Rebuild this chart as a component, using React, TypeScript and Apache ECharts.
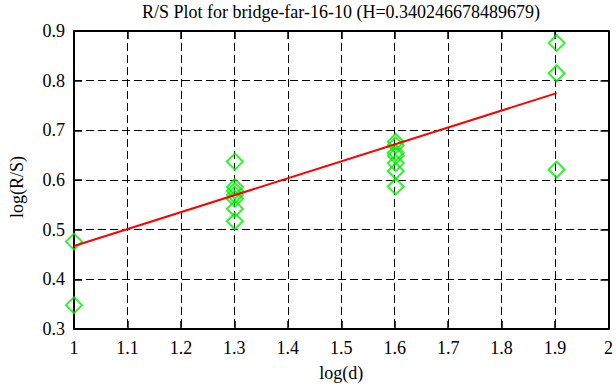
import React, { useEffect, useRef } from "react";
import * as echarts from "echarts";

const TITLE = "R/S Plot for bridge-far-16-10 (H=0.340246678489679)";
const X_NAME = "log(d)";
const Y_NAME = "log(R/S)";

// scatter points: log(d) and log(R/S)
const pointX = [
  1, 1,
  1.301, 1.301, 1.301, 1.301, 1.301, 1.301, 1.301,
  1.602, 1.602, 1.602, 1.602, 1.602, 1.602, 1.602,
  1.903, 1.903, 1.903,
];
const pointY = [
  0.476, 0.348,
  0.637, 0.586, 0.578, 0.570, 0.562, 0.542, 0.517,
  0.677, 0.670, 0.655, 0.649, 0.634, 0.618, 0.587,
  0.876, 0.815, 0.621,
];

// regression line endpoints
const fitX = [1, 1.903];
const fitY = [0.467, 0.775];

const FONT = "Liberation Serif";

export default function App() {
  const ref = useRef<HTMLDivElement>(null);
  useEffect(() => {
    if (!ref.current) return;
    const chart = echarts.init(ref.current, undefined, { renderer: "svg" });
    const axisLine = { show: true, lineStyle: { color: "#000", width: 2 } };
    const axisTick = { show: true, inside: true, length: 8, lineStyle: { color: "#000", width: 1.5 } };
    const split = { show: true, lineStyle: { color: "#000", width: 1, type: [8, 4] as any } };
    const labelStyle = { color: "#000", fontFamily: FONT, fontSize: 18 };
    const fmt = (v: number) => String(Math.round(v * 10) / 10);
    chart.setOption({
      animation: false,
      backgroundColor: "#fff",
      grid: { left: 71, right: 7, top: 31, bottom: 57 },
      graphic: [
        {
          type: "text",
          x: 341,
          y: 12,
          style: { text: TITLE, fill: "#000", font: `18px "${FONT}"`, textAlign: "center", textVerticalAlign: "middle" },
        },
      ],
      xAxis: [
        {
          type: "value", min: 1, max: 2, interval: 0.1, position: "bottom",
          axisLine, axisTick, splitLine: split,
          axisLabel: { ...labelStyle, margin: 10, formatter: fmt },
          name: X_NAME, nameLocation: "middle", nameGap: 35,
          nameTextStyle: { ...labelStyle },
        },
        {
          type: "value", min: 1, max: 2, interval: 0.1, position: "top",
          axisLine, axisTick, splitLine: { show: false }, axisLabel: { show: false },
        },
      ],
      yAxis: [
        {
          type: "value", min: 0.3, max: 0.9, interval: 0.1, position: "left",
          axisLine, axisTick, splitLine: split,
          axisLabel: { ...labelStyle, margin: 9, formatter: fmt },
          name: Y_NAME, nameLocation: "middle", nameGap: 48,
          nameTextStyle: { ...labelStyle, padding: [0, 0, 0, -14] },
        },
        {
          type: "value", min: 0.3, max: 0.9, interval: 0.1, position: "right",
          axisLine, axisTick, splitLine: { show: false }, axisLabel: { show: false },
        },
      ],
      series: [
        {
          type: "scatter",
          xAxisIndex: 0, yAxisIndex: 0,
          symbol: "diamond",
          symbolSize: [16, 16],
          itemStyle: { color: "rgba(0,0,0,0)", borderColor: "#00ee00", borderWidth: 2 },
          data: pointX.map((x, i) => [x, pointY[i]]),
          z: 3,
        },
        {
          type: "line",
          xAxisIndex: 0, yAxisIndex: 0,
          showSymbol: false,
          symbol: "none",
          lineStyle: { color: "#ff0000", width: 2 },
          data: fitX.map((x, i) => [x, fitY[i]]),
          z: 4,
        },
      ],
    });
    return () => chart.dispose();
  }, []);
  return <div ref={ref} style={{ width: 616, height: 387, position: "absolute", left: 0, top: 0 }} />;
}
